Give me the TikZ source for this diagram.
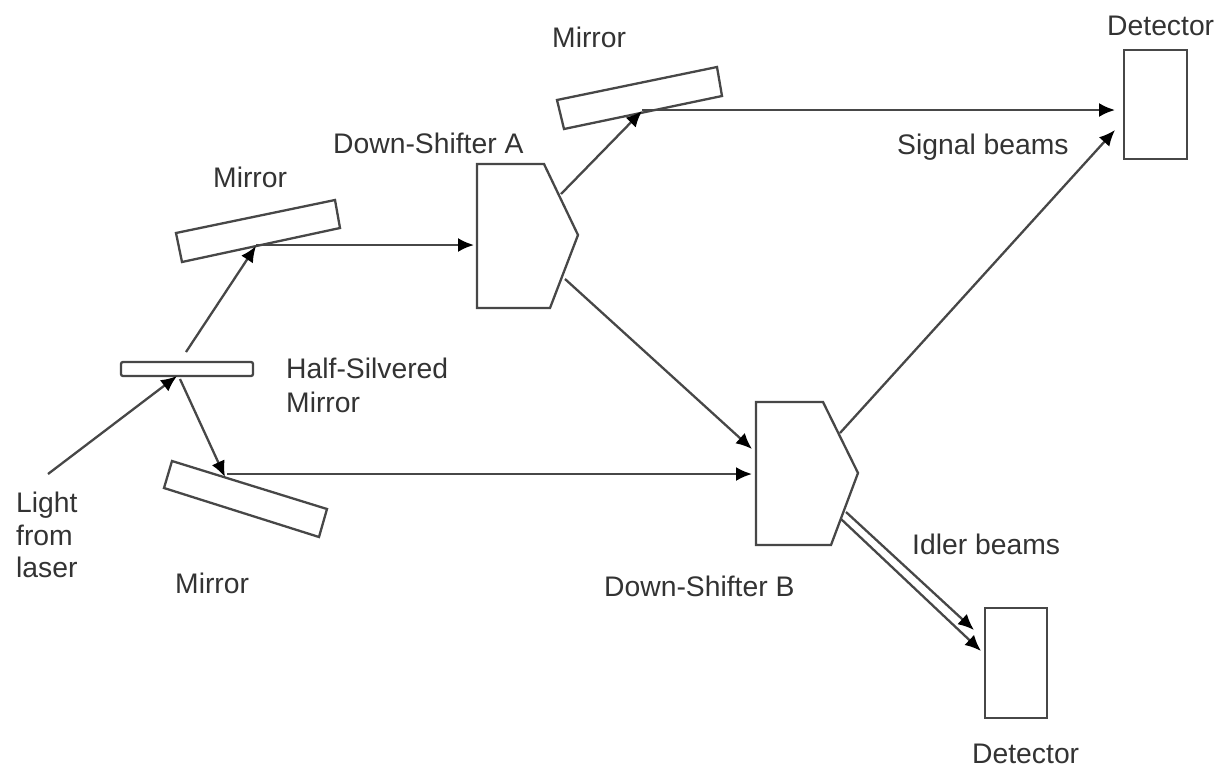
\documentclass[tikz,border=0pt]{standalone}
\usepackage{fontspec}
\setmainfont{Liberation Sans}
\usetikzlibrary{arrows.meta}
\definecolor{ink}{gray}{0.28}
\tikzset{
  shapeline/.style={draw=ink,line width=2.3pt,fill=white,line join=miter},
  beam/.style={draw=ink,line width=2.3pt,-{Latex[length=16pt,width=14pt,color=black,fill=black]}},
  lbl/.style={font=\fontsize{28.3}{33}\selectfont,text=black!80,inner sep=0pt,anchor=base west}
}
\begin{document}
\begin{tikzpicture}[x=1pt,y=-1pt]
\useasboundingbox (0,0) rectangle (1217,769);
% mirrors drawn first so the beams' tips sit on their faces
\draw[shapeline] (176,233) -- (335,200) -- (340,228) -- (182,262) -- cycle;
\draw[shapeline] (172,461) -- (327,509) -- (319,537) -- (164,488) -- cycle;
\draw[shapeline] (557,100) -- (717,67) -- (722,96) -- (564,129) -- cycle;
\draw[shapeline,rounded corners=2pt] (121,362) rectangle (253,376);
% beam junctions and free ends
\coordinate (laser) at (48,474);
\coordinate (hsIn) at (177,376);
\coordinate (hsUp) at (186,352);
\coordinate (hsDown) at (180,379);
\coordinate (mOneHit) at (256,246);
\coordinate (mOneOut) at (256,245);
\coordinate (mTwoHit) at (225,477);
\coordinate (mTwoOut) at (227,474);
\coordinate (mThreeHit) at (642,111);
\coordinate (mThreeOut) at (642,110);
\coordinate (aIn) at (474,245);
\coordinate (aOutUp) at (561,194);
\coordinate (aOutDown) at (565,279);
\coordinate (bInA) at (752,449);
\coordinate (bInM) at (752,474);
\coordinate (bOutUp) at (840,433);
\coordinate (bOutDa) at (846,512);
\coordinate (bOutDb) at (841,519);
\coordinate (detSa) at (1115,110);
\coordinate (detSb) at (1115,130);
\coordinate (detIa) at (974,630);
\coordinate (detIb) at (981,651);
% beams
\draw[beam] (laser) -- (hsIn);
\draw[beam] (hsUp) -- (mOneHit);
\draw[beam] (hsDown) -- (mTwoHit);
\draw[beam] (mOneOut) -- (aIn);
\draw[beam] (mTwoOut) -- (bInM);
\draw[beam] (aOutUp) -- (mThreeHit);
\draw[beam] (mThreeOut) -- (detSa);
\draw[beam] (aOutDown) -- (bInA);
\draw[beam] (bOutUp) -- (detSb);
\draw[beam] (bOutDa) -- (detIa);
\draw[beam] (bOutDb) -- (detIb);
% down-shifters
\draw[shapeline] (477,164) -- (544,164) -- (578,235) -- (550,308) -- (477,308) -- cycle;
\draw[shapeline] (756,402) -- (823,402) -- (858,473) -- (831,545) -- (756,545) -- cycle;
% detectors
\draw[shapeline] (1124,50) rectangle (1187,159);
\draw[shapeline] (985,608) rectangle (1047,718);
% labels
\node[lbl] (t1) at (1107,35) {Detector};
\node[lbl] (t2) at (552,47) {Mirror};
\node[lbl] (t3) at (333,153) {Down-Shifter A};
\node[lbl] (t4) at (897,154) {Signal beams};
\node[lbl] (t5) at (213,187) {Mirror};
\node[lbl] (t6) at (286,378) {Half-Silvered};
\node[lbl] (t7) at (286,412) {Mirror};
\node[lbl] (t8) at (16,512) {Light};
\node[lbl] (t9) at (16,545) {from};
\node[lbl] (t10) at (16,577) {laser};
\node[lbl] (t11) at (175,593) {Mirror};
\node[lbl] (t12) at (604,596) {Down-Shifter B};
\node[lbl] (t13) at (912,554) {Idler beams};
\node[lbl] (t14) at (972,763) {Detector};
\end{tikzpicture}
\end{document}
